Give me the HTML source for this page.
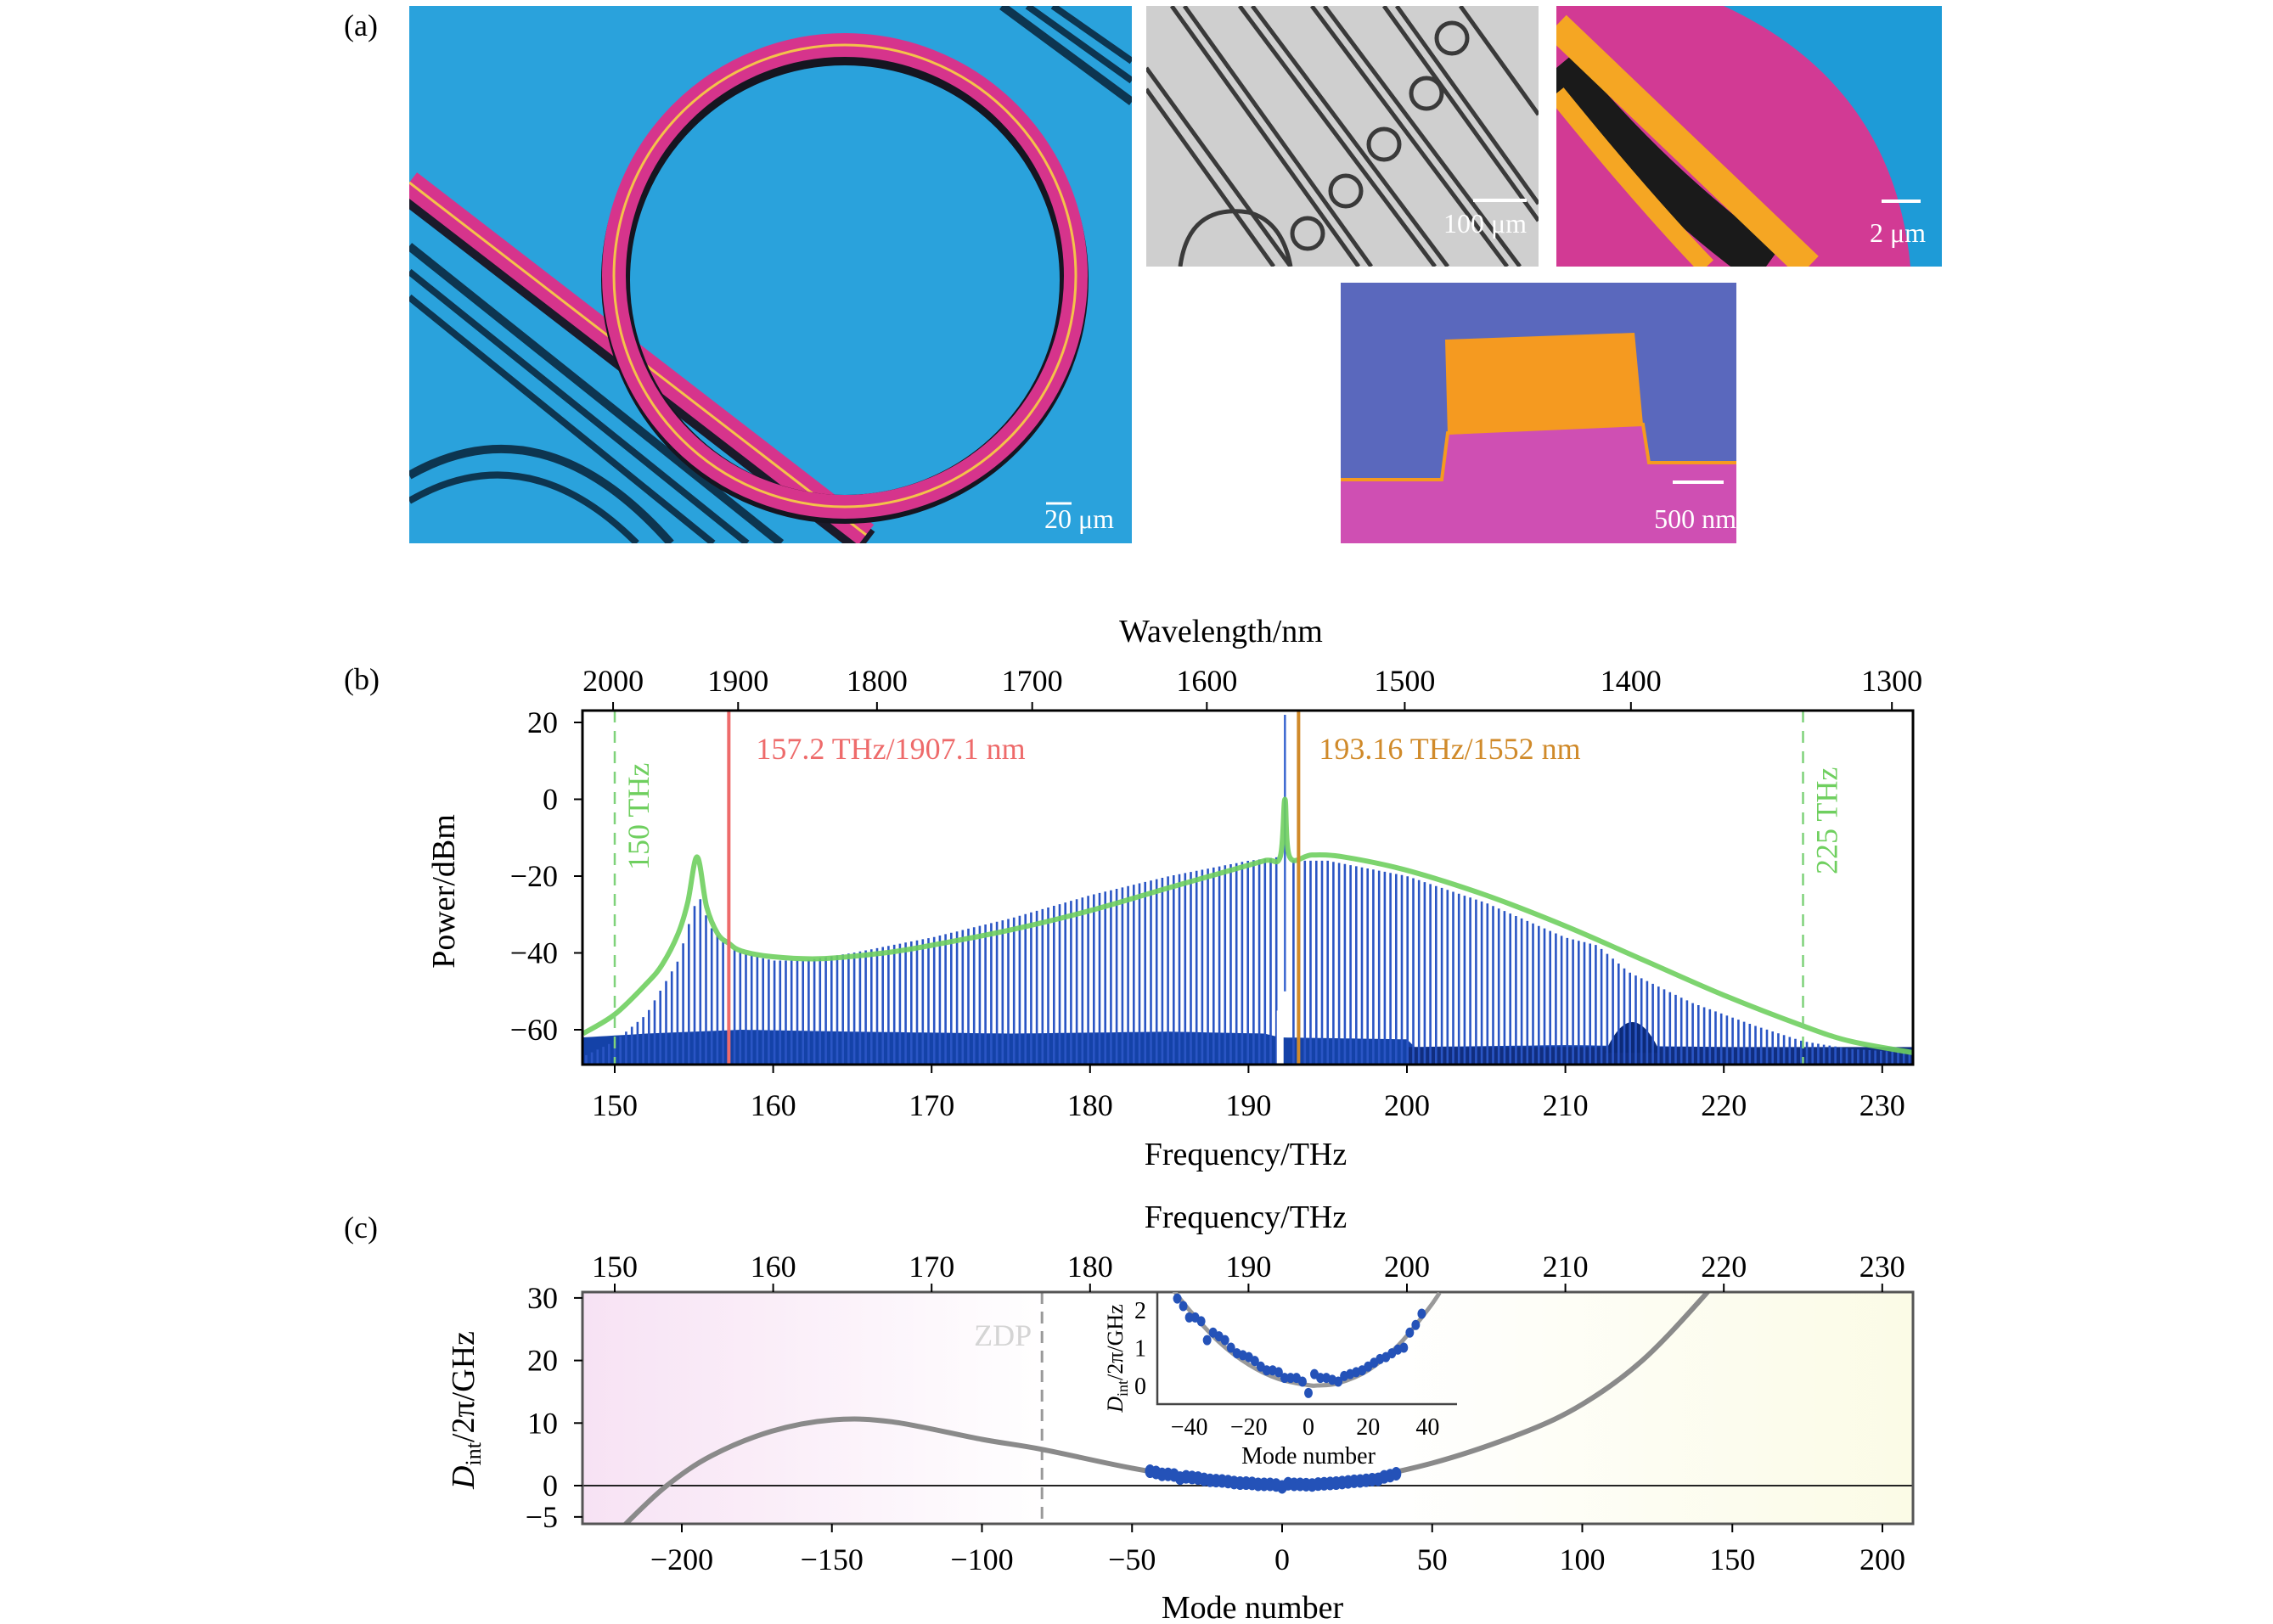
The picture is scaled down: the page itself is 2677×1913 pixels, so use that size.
<!DOCTYPE html>
<html><head><meta charset="utf-8">
<style>
html,body{margin:0;padding:0;background:#fff;}
svg{display:block;font-family:"Liberation Serif",serif;}
</style></head>
<body>
<svg id="fig" width="2677" height="1913" viewBox="0 0 2677 1913" xmlns="http://www.w3.org/2000/svg">
<defs>
<clipPath id="clipB"><rect x="686" y="837" width="1567" height="417"/></clipPath>
<clipPath id="clipC"><rect x="686" y="1522" width="1567" height="273"/></clipPath>
<clipPath id="clipI"><rect x="1363" y="1522" width="353" height="132"/></clipPath>
<clipPath id="clipBig"><rect x="482" y="7" width="851" height="633"/></clipPath>
<clipPath id="clipGrey"><rect x="1350" y="7" width="462" height="307"/></clipPath>
<clipPath id="clipPink"><rect x="1833" y="7" width="454" height="307"/></clipPath>
<linearGradient id="bgC" x1="0" x2="1" y1="0" y2="0">
<stop offset="0" stop-color="#f7e2f4"/><stop offset="0.35" stop-color="#ffffff"/><stop offset="0.6" stop-color="#ffffff"/><stop offset="1" stop-color="#fbfbe6"/>
</linearGradient>
</defs>

<!-- panel a -->
<text x="405" y="42" font-size="36">(a)</text>
<g clip-path="url(#clipBig)">
<rect x="482" y="7" width="851" height="633" fill="#2aa2dc"/>
<g fill="none" stroke-linecap="butt">
<path d="M1180 7 L1333 120" stroke="#0d3550" stroke-width="10"/>
<path d="M1210 7 L1333 95" stroke="#0d3550" stroke-width="8"/>
<path d="M1240 7 L1333 72" stroke="#0d3550" stroke-width="8"/>
<path d="M482 290 L920 640" stroke="#0d3550" stroke-width="10"/>
<path d="M482 320 L880 640" stroke="#0d3550" stroke-width="8"/>
<path d="M482 350 L840 640" stroke="#0d3550" stroke-width="8"/>
<path d="M482 560 Q640 470 790 640" stroke="#0d3550" stroke-width="10"/>
<path d="M482 590 Q620 510 750 640" stroke="#0d3550" stroke-width="8"/>
<path d="M482 225 L1020 640" stroke="#1a1a2a" stroke-width="34"/>
<path d="M482 215 L1020 630" stroke="#d6348c" stroke-width="30"/>
<path d="M482 215 L1020 630" stroke="#f4c24a" stroke-width="3"/>
<circle cx="995" cy="330" r="270" stroke="#151520" stroke-width="34"/>
<circle cx="995" cy="325" r="272" stroke="#d6348c" stroke-width="28"/>
<circle cx="995" cy="325" r="272" stroke="#f4c24a" stroke-width="3"/>
</g>
<line x1="1232" y1="593" x2="1262" y2="593" stroke="#fff" stroke-width="3"/>
<text x="1312" y="622" font-size="32" fill="#fff" text-anchor="end">20 μm</text>
</g>
<g clip-path="url(#clipGrey)">
<rect x="1350" y="7" width="462" height="307" fill="#cfcfcf"/>
<g fill="none" stroke="#3a3a3a" stroke-width="5">
<path d="M1350 80 L1520 314"/><path d="M1350 105 L1500 314"/>
<path d="M1380 7 L1600 314"/><path d="M1395 7 L1615 314"/>
<path d="M1460 7 L1690 314"/><path d="M1475 7 L1705 314"/>
<path d="M1545 7 L1775 314"/><path d="M1560 7 L1790 314"/>
<path d="M1630 7 L1812 260"/><path d="M1645 7 L1812 240"/>
<path d="M1720 7 L1812 135"/>
<circle cx="1710" cy="45" r="18"/><circle cx="1680" cy="110" r="18"/><circle cx="1630" cy="170" r="18"/><circle cx="1585" cy="225" r="18"/><circle cx="1540" cy="275" r="18"/>
<path d="M1390 314 Q1400 240 1470 250 Q1510 260 1520 314"/>
</g>
<line x1="1735" y1="236" x2="1798" y2="236" stroke="#fff" stroke-width="4"/>
<text x="1798" y="274" font-size="32" fill="#fff" text-anchor="end">100 μm</text>
</g>
<g clip-path="url(#clipPink)">
<rect x="1833" y="7" width="454" height="307" fill="#d23a94"/>
<path d="M2030 7 Q2230 100 2250 314 L2287 314 L2287 7 Z" fill="#1e9bd7"/>
<path d="M1833 80 Q1950 220 2080 314" stroke="#1a1a1a" stroke-width="50" fill="none"/>
<path d="M1833 30 Q1980 170 2130 314" stroke="#f5a623" stroke-width="34" fill="none"/>
<path d="M1833 110 Q1930 230 2010 314" stroke="#f5a623" stroke-width="22" fill="none"/>
<line x1="2216" y1="237" x2="2262" y2="237" stroke="#fff" stroke-width="4"/>
<text x="2268" y="285" font-size="32" fill="#fff" text-anchor="end">2 μm</text>
</g>
<g>
<rect x="1579" y="333" width="466" height="307" fill="#5a68bd"/>
<path d="M1579 565 L1698 565 L1705 510 L1935 500 L1942 545 L2045 545 L2045 640 L1579 640 Z" fill="#cf4fb3"/>
<path d="M1579 565 L1698 565 L1705 510 L1935 500 L1942 545 L2045 545" stroke="#f59a20" stroke-width="4" fill="none"/>
<path d="M1705 512 L1702 400 L1925 392 L1935 500 Z" fill="#f59a20"/>
<line x1="1970" y1="568" x2="2030" y2="568" stroke="#fff" stroke-width="4"/>
<text x="2045" y="622" font-size="32" fill="#fff" text-anchor="end">500 nm</text>
</g>

<!-- panel b -->
<text x="405" y="812" font-size="36">(b)</text>
<g id="panelB"></g>
<!-- panel c -->
<text x="405" y="1458" font-size="36">(c)</text>
<g id="panelC"></g>
</svg>
<script>
// ---------- Panel b data ----------
const envFreq = [148,150,152,153,154,154.6,155.2,155.8,156.5,157.2,158,160,163,167,170,175,180,185,188,191,192,192.3,192.6,194,196,200,205,210,215,220,225,228,232];
const envPower = [-61,-56,-48,-43,-35,-27,-15,-28,-35,-37.5,-39.5,-41,-41.5,-40,-38,-34,-29,-23,-19.5,-16,-15,0,-15,-14.5,-15,-18.5,-25,-33,-42,-51,-59,-63,-66];
const lineFreq = [148,150,152,154,155,155.4,156,157,158,160,162,165,170,175,180,185,190,192,193,195,200,205,210,212,214,218,222,225,228,232];
const linePower = [-67,-63,-56,-42,-28,-26,-33,-38,-40,-42,-42,-40,-36,-31,-25,-20,-16,-15,-16,-16,-20,-27,-36,-38,-45,-53,-59,-63,-65,-66];
const floorFreq = [148,152,158,165,175,185,191,192,200,200.1,210,220,232];
const floorPower = [-62,-61,-60,-60.5,-61,-60.5,-61,-62,-62.5,-64.5,-64,-64.5,-65];
const combSpacing = [0.36];
const pumpFreq = [192.3];
const pumpPower = [22];
const markerFreqs = [157.2, 193.16];
const guideFreqs = [150, 225];
const bFreqTicks = [150,160,170,180,190,200,210,220,230];
const bPowerTicks = [20,0,-20,-40,-60];
const bPowerLabels = ["20","0","\u221220","\u221240","\u221260"];
const wlTicks = [2000,1900,1800,1700,1600,1500,1400,1300];

// ---------- Panel c data ----------
const curveMode = [-222,-218,-205,-190,-170,-150,-130,-100,-80,-50,-20,0,20,50,80,100,120,140,150];
const curveD = [-8,-5.8,0,4.8,8.7,10.5,10.2,7.4,5.8,2.8,0.5,0.1,0.6,3.6,8.4,13,20,30,36];
const insetCurveMode = [-46,-40,-30,-20,-10,0,3,10,20,30,40,44];
const insetCurveD = [2.6,2.0,1.15,0.55,0.17,0.01,0,0.06,0.4,1.05,2.0,2.45];
const dataMode = [-44,-42,-40,-38,-36,-34,-32,-30,-28,-26,-24,-22,-20,-18,-16,-14,-12,-10,-8,-6,-4,-2,0,2,4,6,8,10,12,14,16,18,20,22,24,26,28,30,32,34,36,38];
const dataD = [2.3,2.1,1.8,1.8,1.7,1.2,1.4,1.3,1.2,1.0,0.85,0.8,0.75,0.65,0.5,0.4,0.4,0.35,0.2,0.2,0.2,0.1,-0.2,0.3,0.2,0.2,0.15,0.1,0.25,0.3,0.35,0.4,0.5,0.6,0.7,0.75,0.85,0.95,1.0,1.4,1.6,1.9];
const cModeTicks = [-200,-150,-100,-50,0,50,100,150,200];
const cModeLabels = ["\u2212200","\u2212150","\u2212100","\u221250","0","50","100","150","200"];
const cDTicks = [30,20,10,0,-5];
const cDLabels = ["30","20","10","0","\u22125"];
const zdpMode = [-80];
const insetModeTicks = [-40,-20,0,20,40];
const insetModeLabels = ["\u221240","\u221220","0","20","40"];
const insetDTicks = [0,1,2];

const NS="http://www.w3.org/2000/svg";
function mk(parent,tag,attrs,text){const e=document.createElementNS(NS,tag);for(const k in attrs)e.setAttribute(k,attrs[k]);if(text!==undefined)e.textContent=text;parent.appendChild(e);return e;}
function interp(xs,ys,x){if(x<=xs[0])return ys[0];for(let i=1;i<xs.length;i++){if(x<=xs[i]){const t=(x-xs[i-1])/(xs[i]-xs[i-1]);return ys[i-1]+t*(ys[i]-ys[i-1]);}}return ys[ys.length-1];}
function smoothPath(pts){let d="M"+pts[0][0]+" "+pts[0][1];for(let i=0;i<pts.length-1;i++){const p0=pts[Math.max(0,i-1)],p1=pts[i],p2=pts[i+1],p3=pts[Math.min(pts.length-1,i+2)];const c1=[p1[0]+(p2[0]-p0[0])/6,p1[1]+(p2[1]-p0[1])/6],c2=[p2[0]-(p3[0]-p1[0])/6,p2[1]-(p3[1]-p1[1])/6];d+=" C"+c1[0].toFixed(1)+" "+c1[1].toFixed(1)+" "+c2[0].toFixed(1)+" "+c2[1].toFixed(1)+" "+p2[0].toFixed(1)+" "+p2[1].toFixed(1);}return d;}

const fx=f=>724+(f-150)*18.66;
const py=p=>1213-(p+60)*4.525;
const mx=m=>1510+m*3.535;
const dy=d=>1750-d*7.37;
const ix=m=>1541+m*3.51;
const iy=d=>1632-d*44.5;

// ===== Panel B =====
const B=document.getElementById('panelB');
const bPlot=mk(B,'g',{'clip-path':'url(#clipB)'});


// noise floor
let floorPts=[];
for(let f=148;f<=232.01;f+=0.5){floorPts.push(fx(f).toFixed(1)+","+py(interp(floorFreq,floorPower,f)).toFixed(1));}
const floorL=mk(bPlot,'polygon',{points:floorPts.join(" ")+" "+fx(232)+",1254 "+fx(148)+",1254",fill:'#1442a8'});


const floorR=mk(bPlot,'rect',{x:fx(200),y:py(-64.5),width:fx(232)-fx(200),height:1254-py(-64.5),fill:'#102e80'});


const bump=mk(bPlot,'path',{d:`M${fx(212.5)} ${py(-66)} Q${fx(214.2)} ${py(-50)} ${fx(216)} ${py(-66)} Z`,fill:'#0c2a78'});


// comb lines
const combG=mk(bPlot,'g',{stroke:'#2a55c4','stroke-width':2.6});


for(let f=148.2;f<=232;f+=combSpacing[0]){
  if(Math.abs(f-192.3)<0.4)continue;
  const p=interp(lineFreq,linePower,f);
  const l=mk(combG,'line',{x1:fx(f).toFixed(1),x2:fx(f).toFixed(1),y1:py(p).toFixed(1),y2:1254});
  
  
}
const gap=mk(bPlot,'rect',{x:fx(192)-4,y:py(-55),width:8,height:1254-py(-55),fill:'#fff'});


const pump=mk(bPlot,'line',{x1:fx(pumpFreq[0]),x2:fx(pumpFreq[0]),y1:py(pumpPower[0]),y2:py(-50),stroke:'#3a66d0','stroke-width':2.5});


// envelope
const envPts=envFreq.map((f,i)=>[fx(f),py(envPower[i])]);
const env=mk(bPlot,'path',{d:smoothPath(envPts),fill:'none',stroke:'#6fcf5f','stroke-width':6,'stroke-opacity':0.9});


// guide lines
guideFreqs.forEach(f=>{const g=mk(B,'line',{x1:fx(f),x2:fx(f),y1:837,y2:1254,stroke:'#7fd27a','stroke-width':2.5,'stroke-dasharray':'14 10'});

});
const redL=mk(B,'line',{x1:fx(markerFreqs[0]),x2:fx(markerFreqs[0]),y1:837,y2:1254,stroke:'#ee6b6b','stroke-width':4});


const orL=mk(B,'line',{x1:fx(markerFreqs[1]),x2:fx(markerFreqs[1]),y1:837,y2:1254,stroke:'#d08a2a','stroke-width':4});


const t1=mk(B,'text',{x:fx(markerFreqs[0])+32,y:894,'font-size':36,fill:'#ee6b6b'},'157.2 THz/1907.1 nm');


const t2=mk(B,'text',{x:fx(markerFreqs[1])+24,y:894,'font-size':36,fill:'#d08a2a'},'193.16 THz/1552 nm');


const t3=mk(B,'text',{x:0,y:0,'font-size':36,fill:'#6fcf5f',transform:`translate(${fx(150)+40},${1025}) rotate(-90)`},'150 THz');


const t4=mk(B,'text',{x:0,y:0,'font-size':36,fill:'#6fcf5f',transform:`translate(${fx(225)+40},${1030}) rotate(-90)`},'225 THz');


const bFrame=mk(B,'rect',{x:686,y:837,width:1567,height:417,fill:'none',stroke:'#000','stroke-width':3});


bFreqTicks.forEach(f=>{
  const l=mk(B,'line',{x1:fx(f),x2:fx(f),y1:1254,y2:1264,stroke:'#000','stroke-width':2});
  
  
  const t=mk(B,'text',{x:fx(f),y:1314,'font-size':36,'text-anchor':'middle'},String(f));
  
  
});
bPowerTicks.forEach((p,i)=>{
  const l=mk(B,'line',{x1:676,x2:686,y1:py(p),y2:py(p),stroke:'#000','stroke-width':2});
  
  
  const t=mk(B,'text',{x:657,y:py(p)+12,'font-size':36,'text-anchor':'end'},bPowerLabels[i]);
  
  
});
wlTicks.forEach(w=>{
  const x=fx(299792.458/w);
  const l=mk(B,'line',{x1:x,x2:x,y1:827,y2:837,stroke:'#000','stroke-width':2});
  
  
  const t=mk(B,'text',{x:x,y:814,'font-size':36,'text-anchor':'middle'},String(w));
  
  
});
const bxt=mk(B,'text',{x:1467,y:1372,'font-size':38,'text-anchor':'middle'},'Frequency/THz');


const btt=mk(B,'text',{x:1438,y:756,'font-size':38,'text-anchor':'middle'},'Wavelength/nm');


const byt=mk(B,'text',{x:0,y:0,'font-size':38,'text-anchor':'middle',transform:'translate(535,1050) rotate(-90)'},'Power/dBm');



// ===== Panel C =====
const C=document.getElementById('panelC');
const cbg=mk(C,'rect',{x:686,y:1522,width:1567,height:273,fill:'url(#bgC)'});


const cPlot=mk(C,'g',{'clip-path':'url(#clipC)'});


const zero=mk(cPlot,'line',{x1:686,x2:2253,y1:dy(0),y2:dy(0),stroke:'#222','stroke-width':2});


const zdp=mk(cPlot,'line',{x1:mx(zdpMode[0]),x2:mx(zdpMode[0]),y1:1522,y2:1795,stroke:'#999','stroke-width':3,'stroke-dasharray':'14 9'});


const zt=mk(C,'text',{x:mx(zdpMode[0])-12,y:1585,'font-size':36,fill:'#d4d4d4','text-anchor':'end'},'ZDP');


const cur=mk(cPlot,'path',{d:smoothPath(curveMode.map((m,i)=>[mx(m),dy(curveD[i])])),fill:'none',stroke:'#8a8a8a','stroke-width':6});


const scG=mk(cPlot,'g',{fill:'#2452b8'});


dataMode.forEach((m,i)=>{
  const e=mk(scG,'ellipse',{cx:mx(m),cy:dy(dataD[i]),rx:6,ry:8});
  
  
});
const cFrame=mk(C,'rect',{x:686,y:1522,width:1567,height:273,fill:'none',stroke:'#555','stroke-width':3});


cModeTicks.forEach((m,i)=>{
  const l=mk(C,'line',{x1:mx(m),x2:mx(m),y1:1795,y2:1805,stroke:'#000','stroke-width':2});
  
  
  const t=mk(C,'text',{x:mx(m),y:1849,'font-size':36,'text-anchor':'middle'},cModeLabels[i]);
  
  
});
bFreqTicks.forEach(f=>{
  const l=mk(C,'line',{x1:fx(f),x2:fx(f),y1:1512,y2:1522,stroke:'#000','stroke-width':2});
  
  
  const t=mk(C,'text',{x:fx(f),y:1504,'font-size':36,'text-anchor':'middle'},String(f));
  
  
});
cDTicks.forEach((d,i)=>{
  const l=mk(C,'line',{x1:676,x2:686,y1:dy(d),y2:dy(d),stroke:'#000','stroke-width':2});
  
  
  const t=mk(C,'text',{x:657,y:dy(d)+12,'font-size':36,'text-anchor':'end'},cDLabels[i]);
  
  
});
const cxt=mk(C,'text',{x:1475,y:1906,'font-size':38,'text-anchor':'middle'},'Mode number');


const ctt=mk(C,'text',{x:1467,y:1446,'font-size':38,'text-anchor':'middle'},'Frequency/THz');


const cyt=mk(C,'text',{x:0,y:0,'font-size':38,'text-anchor':'middle',transform:'translate(558,1661) rotate(-90)'});


mk(cyt,'tspan',{'font-style':'italic'},'D');
mk(cyt,'tspan',{'font-size':26,dy:8},'int');
mk(cyt,'tspan',{dy:-8},'/2π/GHz');

// inset
const I=mk(C,'g',{});


const iPlot=mk(I,'g',{'clip-path':'url(#clipI)'});
const icur=mk(iPlot,'path',{d:smoothPath(insetCurveMode.map((m,i)=>[ix(m),iy(insetCurveD[i])])),fill:'none',stroke:'#999','stroke-width':5});


dataMode.forEach((m,i)=>{
  const e=mk(iPlot,'ellipse',{cx:ix(m),cy:iy(dataD[i]),rx:5,ry:6,fill:'#2452b8'});
  
  
});
const iax=mk(I,'path',{d:'M1363 1522 L1363 1654 L1716 1654',fill:'none',stroke:'#444','stroke-width':2.5});


insetModeTicks.forEach((m,i)=>{
  const t=mk(I,'text',{x:ix(m),y:1690,'font-size':28,'text-anchor':'middle'},insetModeLabels[i]);
  
  
});
insetDTicks.forEach(d=>{
  const t=mk(I,'text',{x:1350,y:iy(d)+10,'font-size':28,'text-anchor':'end'},String(d));
  
  
});
const ixt=mk(I,'text',{x:1541,y:1724,'font-size':28,'text-anchor':'middle'},'Mode number');


const iyt=mk(I,'text',{x:0,y:0,'font-size':26,'text-anchor':'middle',transform:'translate(1322,1600) rotate(-90)'});


mk(iyt,'tspan',{'font-style':'italic'},'D');
mk(iyt,'tspan',{'font-size':18,dy:6},'int');
mk(iyt,'tspan',{dy:-6},'/2π/GHz');
</script>
</body></html>
